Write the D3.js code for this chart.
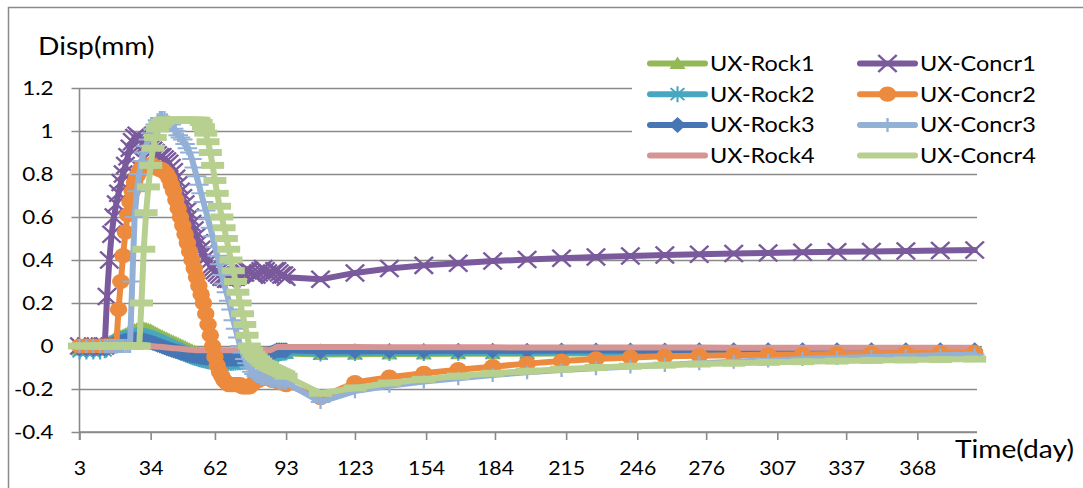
<!DOCTYPE html>
<html>
<head>
<meta charset="utf-8">
<script src="https://cdn.jsdelivr.net/npm/d3@7/dist/d3.min.js"></script>
<style>
  html, body { margin: 0; padding: 0; background: #fff; }
  svg { display: block; font-family: Lato, "Liberation Sans", sans-serif; }
</style>
</head>
<body>
<svg id="chart" width="1083" height="488"></svg>
<script>
// Time of each record (days). Daily records during excavation, then every 15 days.
const days = [3, 6, 9, 12,
  14, 15, 16, 17, 18, 19,
  20, 21, 22, 23, 24, 25, 26, 27, 28, 29,
  30, 31, 32, 33, 34, 35, 36, 37, 38, 39,
  40, 41, 42, 43, 44, 45, 46, 47, 48, 49,
  50, 51, 52, 53, 54, 55, 56, 57, 58, 59,
  60, 61, 62, 63, 64, 65, 66, 67, 68, 69,
  70, 71, 72, 73, 74, 75, 76, 77, 78, 79,
  80, 81, 82, 83, 84, 85, 86, 87, 88, 89,
  90, 91, 92, 93,
  108, 123, 138, 153, 168, 183, 198, 213, 228, 243,
  258, 273, 288, 303, 318, 333, 348, 363, 378, 393];

// Horizontal displacement (mm) at rock monitoring points
const uxRock1 = [-0.02, -0.02, -0.02, -0.02,
  -0.01, 0, 0.01, 0.02, 0.03, 0.035,
  0.04, 0.045, 0.05, 0.055, 0.06, 0.065, 0.07, 0.075, 0.078, 0.08,
  0.082, 0.082, 0.08, 0.077, 0.073, 0.068, 0.062, 0.056, 0.05, 0.045,
  0.04, 0.035, 0.03, 0.025, 0.02, 0.015, 0.01, 0.005, 0, -0.005,
  -0.01, -0.015, -0.02, -0.025, -0.03, -0.035, -0.04, -0.045, -0.048, -0.05,
  -0.052, -0.054, -0.056, -0.058, -0.06, -0.06, -0.06, -0.06, -0.06, -0.06,
  -0.06, -0.06, -0.06, -0.06, -0.06, -0.06, -0.06, -0.06, -0.06, -0.058,
  -0.056, -0.054, -0.052, -0.05, -0.048, -0.046, -0.044, -0.042, -0.04, -0.038,
  -0.037, -0.036, -0.035, -0.035,
  -0.04, -0.038, -0.037, -0.037, -0.036, -0.036, -0.036, -0.035, -0.035, -0.035,
  -0.035, -0.035, -0.034, -0.034, -0.034, -0.034, -0.034, -0.033, -0.033, -0.033];

const uxRock2 = [-0.025, -0.025, -0.025, -0.025,
  -0.02, -0.01, 0, 0.01, 0.015, 0.02,
  0.025, 0.03, 0.033, 0.036, 0.04, 0.043, 0.046, 0.048, 0.05, 0.05,
  0.05, 0.048, 0.045, 0.042, 0.038, 0.034, 0.03, 0.025, 0.02, 0.015,
  0.01, 0.005, 0, -0.005, -0.01, -0.015, -0.02, -0.025, -0.03, -0.035,
  -0.04, -0.044, -0.048, -0.052, -0.056, -0.06, -0.063, -0.066, -0.069, -0.071,
  -0.073, -0.075, -0.076, -0.077, -0.078, -0.078, -0.078, -0.078, -0.078, -0.078,
  -0.078, -0.077, -0.076, -0.075, -0.074, -0.073, -0.072, -0.07, -0.068, -0.066,
  -0.064, -0.062, -0.06, -0.058, -0.056, -0.054, -0.05, -0.045, -0.04, -0.035,
  -0.033, -0.032, -0.031, -0.03,
  -0.035, -0.033, -0.032, -0.032, -0.031, -0.031, -0.031, -0.03, -0.03, -0.03,
  -0.03, -0.03, -0.03, -0.029, -0.029, -0.029, -0.029, -0.029, -0.028, -0.028];

const uxRock3 = [-0.01, -0.01, -0.01, -0.01,
  -0.01, -0.005, 0, 0.005, 0.01, 0.013,
  0.016, 0.019, 0.022, 0.024, 0.026, 0.028, 0.03, 0.03, 0.03, 0.03,
  0.028, 0.026, 0.023, 0.02, 0.017, 0.014, 0.01, 0.006, 0.002, -0.002,
  -0.006, -0.01, -0.014, -0.018, -0.021, -0.024, -0.027, -0.03, -0.033, -0.036,
  -0.039, -0.042, -0.044, -0.046, -0.048, -0.05, -0.052, -0.054, -0.055, -0.056,
  -0.057, -0.058, -0.059, -0.06, -0.06, -0.06, -0.06, -0.06, -0.06, -0.06,
  -0.06, -0.06, -0.059, -0.058, -0.057, -0.056, -0.055, -0.054, -0.053, -0.052,
  -0.05, -0.048, -0.046, -0.044, -0.042, -0.04, -0.035, -0.03, -0.025, -0.02,
  -0.02, -0.02, -0.02, -0.02,
  -0.025, -0.024, -0.023, -0.023, -0.022, -0.022, -0.022, -0.021, -0.021, -0.021,
  -0.021, -0.02, -0.02, -0.02, -0.02, -0.02, -0.02, -0.02, -0.02, -0.02];

const uxRock4 = [0, 0, 0, 0,
  0, 0, 0, 0, 0, 0,
  0, 0, 0, 0, 0, 0, 0, 0, 0, 0,
  0, 0, 0, 0, 0, -0.001, -0.002, -0.003, -0.004, -0.005,
  -0.006, -0.007, -0.008, -0.009, -0.01, -0.011, -0.012, -0.013, -0.014, -0.015,
  -0.016, -0.017, -0.018, -0.019, -0.02, -0.02, -0.02, -0.02, -0.02, -0.02,
  -0.02, -0.02, -0.02, -0.02, -0.02, -0.02, -0.02, -0.02, -0.02, -0.02,
  -0.02, -0.02, -0.02, -0.02, -0.02, -0.02, -0.02, -0.02, -0.02, -0.02,
  -0.02, -0.02, -0.02, -0.02, -0.02, -0.02, -0.02, -0.015, -0.01, -0.005,
  -0.005, -0.005, -0.005, -0.005,
  -0.005, -0.005, -0.006, -0.006, -0.006, -0.006, -0.007, -0.007, -0.007, -0.007,
  -0.007, -0.007, -0.008, -0.008, -0.008, -0.008, -0.008, -0.008, -0.008, -0.008];

// Horizontal displacement (mm) at lining concrete monitoring points
const uxConcr1 = [0, 0, 0, 0,
  0, 0.23, 0.40, 0.52, 0.60, 0.66,
  0.71, 0.76, 0.80, 0.84, 0.88, 0.92, 0.95, 0.97, 0.98, 0.97,
  0.96, 0.95, 0.94, 0.93, 0.92, 0.91, 0.90, 0.89, 0.88, 0.88,
  0.87, 0.86, 0.85, 0.83, 0.81, 0.78, 0.75, 0.72, 0.69, 0.66,
  0.63, 0.60, 0.57, 0.54, 0.51, 0.48, 0.45, 0.43, 0.41, 0.39,
  0.37, 0.36, 0.35, 0.34, 0.33, 0.32, 0.32, 0.31, 0.31, 0.31,
  0.32, 0.32, 0.33, 0.33, 0.34, 0.34, 0.35, 0.35, 0.34, 0.33,
  0.33, 0.34, 0.35, 0.36, 0.35, 0.34, 0.33, 0.34, 0.35, 0.35,
  0.34, 0.33, 0.33, 0.32,
  0.31, 0.34, 0.36, 0.375, 0.385, 0.395, 0.402, 0.408, 0.414, 0.419,
  0.423, 0.427, 0.43, 0.433, 0.436, 0.438, 0.44, 0.442, 0.444, 0.446];

const uxConcr2 = [0, 0, 0, 0,
  0, 0, 0, 0, 0, 0,
  0.17, 0.30, 0.42, 0.53, 0.61, 0.67, 0.72, 0.76, 0.79, 0.81,
  0.83, 0.84, 0.84, 0.84, 0.84, 0.84, 0.83, 0.83, 0.82, 0.82,
  0.81, 0.80, 0.78, 0.75, 0.72, 0.68, 0.64, 0.60, 0.56, 0.52,
  0.48, 0.44, 0.40, 0.36, 0.32, 0.28, 0.24, 0.20, 0.15, 0.10,
  0.05, 0, -0.05, -0.09, -0.12, -0.14, -0.16, -0.17, -0.18, -0.18,
  -0.18, -0.18, -0.18, -0.18, -0.19, -0.19, -0.19, -0.19, -0.18, -0.17,
  -0.16, -0.16, -0.15, -0.15, -0.15, -0.15, -0.15, -0.16, -0.16, -0.16,
  -0.17, -0.17, -0.17, -0.18,
  -0.24, -0.17, -0.145, -0.127, -0.11, -0.096, -0.082, -0.07, -0.06, -0.053,
  -0.048, -0.045, -0.043, -0.041, -0.039, -0.037, -0.035, -0.033, -0.032, -0.03];

const uxConcr3 = [0, 0, 0, 0,
  0, 0, 0, 0, 0, 0,
  0, 0, 0, 0, 0, 0, 0.30, 0.60, 0.72, 0.80,
  0.86, 0.90, 0.93, 0.96, 0.99, 1.01, 1.03, 1.05, 1.06, 1.06,
  1.06, 1.05, 1.04, 1.03, 1.01, 1.0, 0.98, 0.97, 0.96, 0.94,
  0.92, 0.90, 0.87, 0.83, 0.79, 0.75, 0.71, 0.67, 0.63, 0.59,
  0.55, 0.51, 0.46, 0.42, 0.38, 0.33, 0.29, 0.25, 0.21, 0.17,
  0.12, 0.08, 0.04, 0, -0.03, -0.06, -0.08, -0.10, -0.12, -0.13,
  -0.14, -0.14, -0.15, -0.15, -0.15, -0.15, -0.16, -0.16, -0.16, -0.16,
  -0.17, -0.17, -0.17, -0.17,
  -0.26, -0.21, -0.185, -0.165, -0.15, -0.135, -0.122, -0.112, -0.103, -0.095,
  -0.088, -0.08, -0.073, -0.067, -0.061, -0.056, -0.051, -0.047, -0.043, -0.04];

const uxConcr4 = [0, 0, 0, 0,
  0, 0, 0, 0, 0, 0,
  0, 0, 0, 0, 0, 0, 0, 0, 0, 0,
  0.20, 0.45, 0.62, 0.74, 0.84, 0.92, 0.97, 1.01, 1.03, 1.04,
  1.05, 1.05, 1.05, 1.05, 1.05, 1.05, 1.05, 1.05, 1.05, 1.05,
  1.05, 1.05, 1.05, 1.05, 1.05, 1.05, 1.04, 1.02, 0.99, 0.95,
  0.90, 0.84, 0.77, 0.71, 0.65, 0.60, 0.55, 0.50, 0.45, 0.40,
  0.35, 0.30, 0.25, 0.20, 0.15, 0.10, 0.05, 0, -0.02, -0.04,
  -0.05, -0.06, -0.07, -0.08, -0.085, -0.09, -0.10, -0.105, -0.11, -0.115,
  -0.12, -0.125, -0.13, -0.14,
  -0.22, -0.195, -0.172, -0.155, -0.14, -0.127, -0.117, -0.108, -0.1, -0.094,
  -0.089, -0.084, -0.08, -0.076, -0.073, -0.07, -0.067, -0.065, -0.063, -0.061];

const seriesNames = ["UX-Rock1", "UX-Rock2", "UX-Rock3", "UX-Rock4",
                     "UX-Concr1", "UX-Concr2", "UX-Concr3", "UX-Concr4"];
const seriesValues = [uxRock1, uxRock2, uxRock3, uxRock4,
                      uxConcr1, uxConcr2, uxConcr3, uxConcr4];

const xTickDays = [3, 34, 62, 93, 123, 154, 184, 215, 246, 276, 307, 337, 368];
const yTickValues = [-0.4, -0.2, 0, 0.2, 0.4, 0.6, 0.8, 1, 1.2];

// Drawing style per series (colour, marker shape)
const styles = [
  { color: "#93b957", marker: "triangle" },
  { color: "#47a7c0", marker: "star" },
  { color: "#4676b4", marker: "diamond" },
  { color: "#d69593", marker: "none" },
  { color: "#7a5a9c", marker: "x" },
  { color: "#ec8a3e", marker: "circle" },
  { color: "#93b0d6", marker: "plus" },
  { color: "#b7d08f", marker: "bar" }
];

// The whole drawing is slightly wider than tall: glyphs and markers get this x-stretch
const SX = 1.15;

const markerShapes = {
  triangle: { d: "M0,-7L7,5.5L-7,5.5Z", fill: true },
  star: { d: "M-6,-6L6,6M6,-6L-6,6M0,-8V8", fill: false, w: 1.8 },
  diamond: { d: "M0,-8L7.5,0L0,8L-7.5,0Z", fill: true },
  x: { d: "M-8,-8.5L8,8.5M8,-8.5L-8,8.5", fill: false, w: 2.2 },
  circle: { d: "M7.6,0A7.6,7.6 0 1,1 -7.6,0A7.6,7.6 0 1,1 7.6,0Z", fill: true },
  plus: { d: "M-8.5,0H8.5M0,-7V7", fill: false, w: 2 },
  bar: { d: "M-10,-3.5H10V3.5H-10Z", fill: true }
};

const svg = d3.select("#chart");
const gridColor = "#8a8a8a";
const FONT = "Lato, 'Liberation Sans', sans-serif";

const x = d3.scaleLinear().domain([3, 394]).range([79.5, 977]);
const y = d3.scaleLinear().domain([-0.4, 1.2]).range([432, 88]);

function stretchedText(parent, tx, ty, str, size, anchor) {
  return parent.append("text")
    .attr("transform", `translate(${tx},${ty}) scale(${SX},1)`)
    .attr("text-anchor", anchor || "start")
    .style("font-family", FONT).style("font-size", size + "px")
    .attr("fill", "#000").text(str);
}

// Outer chart frame
svg.append("rect").attr("x", 8.5).attr("y", 7.5).attr("width", 1100).attr("height", 500)
  .attr("fill", "none").attr("stroke", gridColor).attr("stroke-width", 1.5);

// Horizontal gridlines with tick labels
const yAxis = d3.axisLeft(y).tickValues(yTickValues)
  .tickSize(-(977 - 79.5)).tickPadding(0)
  .tickFormat(v => v === 0 ? "0" : String(+v.toFixed(1)));
const gy = svg.append("g").attr("transform", "translate(79.5,0)").call(yAxis);
gy.select(".domain").remove();
gy.selectAll(".tick line").attr("x1", -8).attr("stroke", gridColor).attr("stroke-width", 1.6);
gy.selectAll(".tick text").attr("x", null).attr("dy", null)
  .attr("transform", `translate(-26,6.8) scale(${SX},1)`)
  .style("font-family", FONT).style("font-size", "19.5px").attr("fill", "#000");

// Date axis along the bottom
const xAxis = d3.axisBottom(x).tickValues(xTickDays).tickSize(8).tickPadding(0)
  .tickFormat(d => String(d));
const gx = svg.append("g").attr("transform", "translate(0,432)").call(xAxis);
gx.select(".domain").attr("d", `M${x(3)},0H977`).attr("stroke", gridColor).attr("stroke-width", 1.6);
gx.selectAll(".tick line").attr("stroke", gridColor).attr("stroke-width", 1.6);
gx.selectAll(".tick text").attr("y", null).attr("dy", null)
  .attr("transform", `translate(0,43) scale(${SX},1)`)
  .style("font-family", FONT).style("font-size", "18.5px").attr("fill", "#000");

// Vertical axis line
svg.append("line").attr("x1", x(3)).attr("x2", x(3)).attr("y1", y(1.2)).attr("y2", 440)
  .attr("stroke", gridColor).attr("stroke-width", 1.6);

// Axis titles
stretchedText(svg, 38, 55, "Disp(mm)", 24.5);
stretchedText(svg, 955, 458, "Time(day)", 24.5);

// Legend panel sits over the plot area
svg.append("rect").attr("x", 632).attr("y", 44).attr("width", 346).attr("height", 128).attr("fill", "#fff");

const line = d3.line().x(d => x(d.day)).y(d => y(d.v));

function drawMarkers(g, pts, st) {
  if (st.marker === "none") return;
  const m = markerShapes[st.marker];
  g.selectAll("path.mk").data(pts).join("path").attr("class", "mk")
    .attr("transform", d => `translate(${x(d.day)},${y(d.v)}) scale(${SX},1)`)
    .attr("d", m.d)
    .attr("fill", m.fill ? st.color : "none")
    .attr("stroke", m.fill ? "none" : st.color)
    .attr("stroke-width", m.w || 0);
}

seriesValues.forEach((vals, i) => {
  const st = styles[i];
  const pts = days.map((dd, k) => ({ day: dd, v: vals[k] }));
  const g = svg.append("g").attr("class", "series");
  g.append("path").datum(pts).attr("d", line).attr("fill", "none")
    .attr("stroke", st.color).attr("stroke-width", 6)
    .attr("stroke-linejoin", "round").attr("stroke-linecap", "round");
  drawMarkers(g, pts, st);
});

// Legend entries (two columns)
seriesNames.forEach((name, i) => {
  const st = styles[i];
  const col = Math.floor(i / 4), row = i % 4;
  const lx = col === 0 ? 650 : 860;
  const ly = 63.5 + row * 30.7;
  const g = svg.append("g").attr("transform", `translate(${lx},${ly})`);
  g.append("line").attr("x1", 0).attr("x2", 55).attr("y1", 0).attr("y2", 0)
    .attr("stroke", st.color).attr("stroke-width", 6).attr("stroke-linecap", "round");
  if (st.marker !== "none" && st.marker !== "bar") {
    const m = markerShapes[st.marker];
    g.append("path").attr("transform", `translate(27.5,0) scale(${SX},1)`).attr("d", m.d)
      .attr("fill", m.fill ? st.color : "none")
      .attr("stroke", m.fill ? "none" : st.color).attr("stroke-width", m.w || 0);
  }
  stretchedText(g, 60, 7.3, name, 20.4);
});
</script>
</body>
</html>
